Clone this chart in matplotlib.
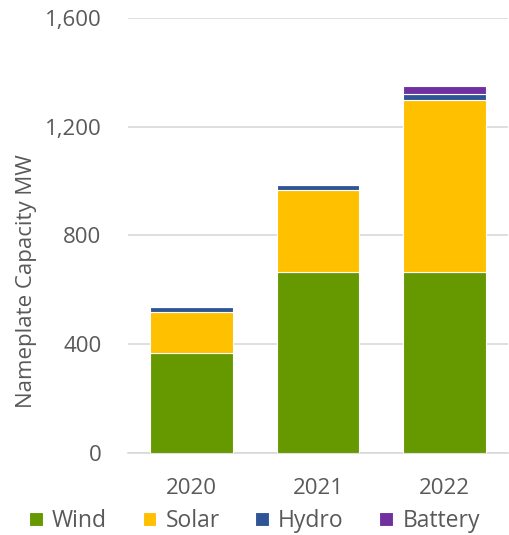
import matplotlib
matplotlib.use("Agg")
import numpy as np
from matplotlib import pyplot as plt

years = ['2020', '2021', '2022']
wind = [368, 666, 666]
solar = [151, 301, 632]
hydro = [18, 19, 22]
battery = [0, 0, 30]

plt.rcParams['font.family'] = ['Open Sans', 'DejaVu Sans']
grey = '#595959'

fig = plt.figure(figsize=(5.09, 5.35), dpi=100)
ax = fig.add_axes([0.2515, 0.1533, 0.7465, 0.8131])

x = np.arange(len(years))
w = 0.65
bottom = np.zeros(len(years))
series = [('Wind', wind, '#669900'), ('Solar', solar, '#FFC000'),
          ('Hydro', hydro, '#2F5597'), ('Battery', battery, '#7030A0')]
for name, vals, col in series:
    vals = np.array(vals, dtype=float)
    ax.bar(x, vals, w, bottom=bottom, color=col, edgecolor='white',
           linewidth=0.8, label=name, zorder=3)
    bottom += vals

ax.set_xlim(-0.5, 2.5)
ax.set_ylim(0, 1600)
ax.set_yticks([0, 400, 800, 1200, 1600])
ax.set_yticklabels(['0', '400', '800', '1,200', '1,600'])
ax.set_xticks(x)
ax.set_xticklabels(years)
ax.yaxis.grid(True, color='#d9d9d9', linewidth=1.2, zorder=0)
for s in ['top', 'right', 'left']:
    ax.spines[s].set_visible(False)
ax.spines['bottom'].set_color('#d9d9d9')
ax.spines['bottom'].set_linewidth(1.2)
ax.tick_params(axis='y', length=0, pad=19, labelsize=16, labelcolor=grey)
ax.tick_params(axis='x', length=0, pad=18, labelsize=16, labelcolor=grey)
ax.set_ylabel('Nameplate Capacity MW', fontsize=16, color=grey)
ax.yaxis.set_label_coords(-0.24, 0.395)

fig.legend(loc='lower center', bbox_to_anchor=(0.5, -0.035), ncol=4,
           frameon=False, fontsize=16.5, labelcolor=grey, handlelength=0.6,
           handleheight=0.6, handletextpad=0.4, columnspacing=1.55)

plt.savefig('out.png', dpi=100)
